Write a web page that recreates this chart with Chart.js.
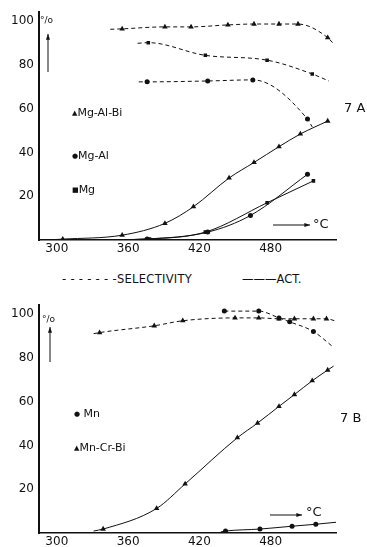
<!DOCTYPE html>
<html>
<head>
<meta charset="utf-8">
<script src="https://cdn.jsdelivr.net/npm/chart.js@4.4.1/dist/chart.umd.min.js"></script>
<style>
  html, body { margin: 0; padding: 0; background: #fff; overflow: hidden; }
  body { width: 367px; height: 547px; position: relative; font-family: "DejaVu Sans", sans-serif; color: #111; }
  canvas { position: absolute; left: 0; }
  .t { position: absolute; white-space: nowrap; font-size: 11px; line-height: 12px; }
  .m { font-size: 7px; vertical-align: 1px; }
</style>
</head>
<body>
<canvas id="chartA" width="367" height="262" style="top:0"></canvas>
<canvas id="chartB" width="367" height="262" style="top:293px"></canvas>

<div class="t" style="left:40px;top:14px;font-size:9px">°/o</div>
<div class="t" style="left:72px;top:107px"><span class="m">▲</span>Mg-Al-Bi</div>
<div class="t" style="left:72px;top:150px"><span class="m">●</span>Mg-Al</div>
<div class="t" style="left:72px;top:184px"><span class="m">■</span>Mg</div>
<div class="t" style="left:313px;top:217px;font-size:13px;line-height:14px">°C</div>
<div class="t" style="left:344px;top:101px;font-size:13px;line-height:14px">7 A</div>

<div class="t" style="left:62px;top:273px;font-size:11.5px;letter-spacing:0.3px">- - - - - - -SELECTIVITY</div>
<div class="t" style="left:242px;top:273px;font-size:11.5px">———ACT.</div>

<div class="t" style="left:42px;top:313px;font-size:9px">°/o</div>
<div class="t" style="left:74px;top:408px"><span class="m">●</span> Mn</div>
<div class="t" style="left:74px;top:442px"><span class="m">▲</span>Mn-Cr-Bi</div>
<div class="t" style="left:306px;top:505px;font-size:13px;line-height:14px">°C</div>
<div class="t" style="left:340px;top:411px;font-size:13px;line-height:14px">7 B</div>

<script>
// tick labels
const tempTicks = [300, 360, 420, 480];
const pctTicks = [20, 40, 60, 80, 100];

// --- 7 A : selectivity (dashed) ---
const selMgAlBiT = [355, 391, 413, 444, 466, 487, 503, 528];
const selMgAlBi = [96.4, 97.3, 97.3, 98.2, 98.6, 98.6, 98.6, 92.4];
const selMgAlBiEnds = [[345, 96.2], [533, 89.5]];

const selMgT = [377, 425, 477, 515];
const selMg = [90.1, 84.3, 82.1, 75.8];
const selMgEnds = [[368, 89.8], [529, 72.6]];

const selMgAlT = [376, 427, 465, 511];
const selMgAl = [72.2, 72.6, 73.1, 55.2];
const selMgAlEnds = [[369, 72.2], [515, 51.6]];

// --- 7 A : activity (solid) ---
const actMgAlBiT = [305, 355, 391, 415, 445, 466, 487, 505, 528];
const actMgAlBi = [0.4, 2.2, 7.6, 15.2, 28.3, 35.4, 42.6, 48.4, 54.3];
const actMgAlBiEnds = [[292, 0], null];

const actMgAlT = [376, 427, 463, 511];
const actMgAl = [0.5, 3.6, 11.2, 30.0];
const actMgAlEnds = [[330, 0], null];

const actMgT = [378, 425, 477, 516];
const actMg = [0.5, 3.6, 17.0, 27.0];
const actMgEnds = [[330, 0], null];

// --- 7 B : selectivity (dashed) ---
const selMnCrBiT = [336, 382, 406, 450, 470, 487, 500, 516, 527];
const selMnCrBi = [91.5, 94.6, 96.9, 98.2, 98.2, 97.8, 97.8, 97.8, 97.8];
const selMnCrBiEnds = [[331, 91.0], [534, 96.9]];

const selMnT = [441, 470, 487, 496, 516];
const selMn = [101.3, 101.3, 98.2, 96.4, 92.0];
const selMnEnds = [null, [532, 85.2]];

// --- 7 B : activity (solid) ---
const actMnCrBiT = [339, 384, 408, 452, 469, 487, 500, 515, 528];
const actMnCrBi = [1.8, 11.2, 22.4, 43.5, 50.2, 57.8, 63.2, 69.5, 74.4];
const actMnCrBiEnds = [[331, 0.9], [533, 76.2]];

const actMnT = [442, 471, 498, 518];
const actMn = [0.9, 1.8, 3.1, 4.0];
const actMnEnds = [[438, 0.5], [535, 4.9]];

function makeSeries(label, temps, vals, ends, marker, dashed) {
    const pts = temps.map((t, i) => ({ x: t, y: vals[i] }));
    const hasStart = !!ends[0], hasEnd = !!ends[1];
    if (hasStart) pts.unshift({ x: ends[0][0], y: ends[0][1] });
    if (hasEnd) pts.push({ x: ends[1][0], y: ends[1][1] });
    const size = marker === 'triangle' ? 3.2 : (marker === 'rect' ? 2.5 : 2.5);
    return {
        label: label,
        data: pts,
        borderColor: '#111',
        backgroundColor: '#111',
        borderWidth: 1,
        borderDash: dashed ? [4, 3] : [],
        cubicInterpolationMode: 'monotone',
        pointStyle: marker,
        pointRadius: (ctx) => {
            const n = ctx.dataset.data.length;
            if (hasStart && ctx.dataIndex === 0) return 0;
            if (hasEnd && ctx.dataIndex === n - 1) return 0;
            return size;
        },
        pointBorderWidth: 0,
        fill: false
    };
}

const arrowPlugin = {
    id: 'arrows',
    afterDraw(chart, args, opts) {
        const ctx = chart.ctx;
        ctx.save();
        ctx.strokeStyle = '#111';
        ctx.fillStyle = '#111';
        ctx.lineWidth = 1;
        opts.list.forEach(a => {
            const [x1, y1, x2, y2] = a;
            ctx.beginPath();
            ctx.moveTo(x1, y1);
            ctx.lineTo(x2, y2);
            ctx.stroke();
            const ang = Math.atan2(y2 - y1, x2 - x1);
            ctx.beginPath();
            ctx.moveTo(x2, y2);
            ctx.lineTo(x2 - 6 * Math.cos(ang - 0.35), y2 - 6 * Math.sin(ang - 0.35));
            ctx.lineTo(x2 - 6 * Math.cos(ang + 0.35), y2 - 6 * Math.sin(ang + 0.35));
            ctx.closePath();
            ctx.fill();
        });
        ctx.restore();
    }
};

function buildOptions(arrows) {
    return {
        responsive: false,
        animation: false,
        layout: { padding: { top: 8, right: 31, left: 0, bottom: 0 } },
        plugins: {
            legend: { display: false },
            tooltip: { enabled: false },
            arrows: { list: arrows }
        },
        scales: {
            x: {
                type: 'linear',
                min: 285,
                max: 535,
                afterBuildTicks: (s) => { s.ticks = tempTicks.map(v => ({ value: v })); },
                afterFit: (s) => { s.height = 22; },
                grid: { display: false, drawTicks: false },
                border: { color: '#111', width: 1.5 },
                ticks: { color: '#111', padding: 2, maxRotation: 0, font: { family: 'DejaVu Sans', size: 12 } }
            },
            y: {
                min: 0,
                max: 104,
                afterBuildTicks: (s) => { s.ticks = pctTicks.map(v => ({ value: v })); },
                afterFit: (s) => { s.width = 39; },
                grid: { display: false, drawTicks: false },
                border: { color: '#111', width: 2 },
                ticks: { color: '#111', padding: 5, font: { family: 'DejaVu Sans', size: 12 } }
            }
        }
    };
}

new Chart(document.getElementById('chartA'), {
    type: 'line',
    data: {
        datasets: [
            makeSeries('Mg-Al-Bi selectivity', selMgAlBiT, selMgAlBi, selMgAlBiEnds, 'triangle', true),
            makeSeries('Mg selectivity', selMgT, selMg, selMgEnds, 'rect', true),
            makeSeries('Mg-Al selectivity', selMgAlT, selMgAl, selMgAlEnds, 'circle', true),
            makeSeries('Mg-Al-Bi act.', actMgAlBiT, actMgAlBi, actMgAlBiEnds, 'triangle', false),
            makeSeries('Mg-Al act.', actMgAlT, actMgAl, actMgAlEnds, 'circle', false),
            makeSeries('Mg act.', actMgT, actMg, actMgEnds, 'rect', false)
        ]
    },
    options: buildOptions([[48, 72, 48, 34], [273, 225, 310, 225]]),
    plugins: [arrowPlugin]
});

new Chart(document.getElementById('chartB'), {
    type: 'line',
    data: {
        datasets: [
            makeSeries('Mn-Cr-Bi selectivity', selMnCrBiT, selMnCrBi, selMnCrBiEnds, 'triangle', true),
            makeSeries('Mn selectivity', selMnT, selMn, selMnEnds, 'circle', true),
            makeSeries('Mn-Cr-Bi act.', actMnCrBiT, actMnCrBi, actMnCrBiEnds, 'triangle', false),
            makeSeries('Mn act.', actMnT, actMn, actMnEnds, 'circle', false)
        ]
    },
    options: buildOptions([[50, 69, 50, 34], [270, 222, 302, 222]]),
    plugins: [arrowPlugin]
});
</script>
</body>
</html>
